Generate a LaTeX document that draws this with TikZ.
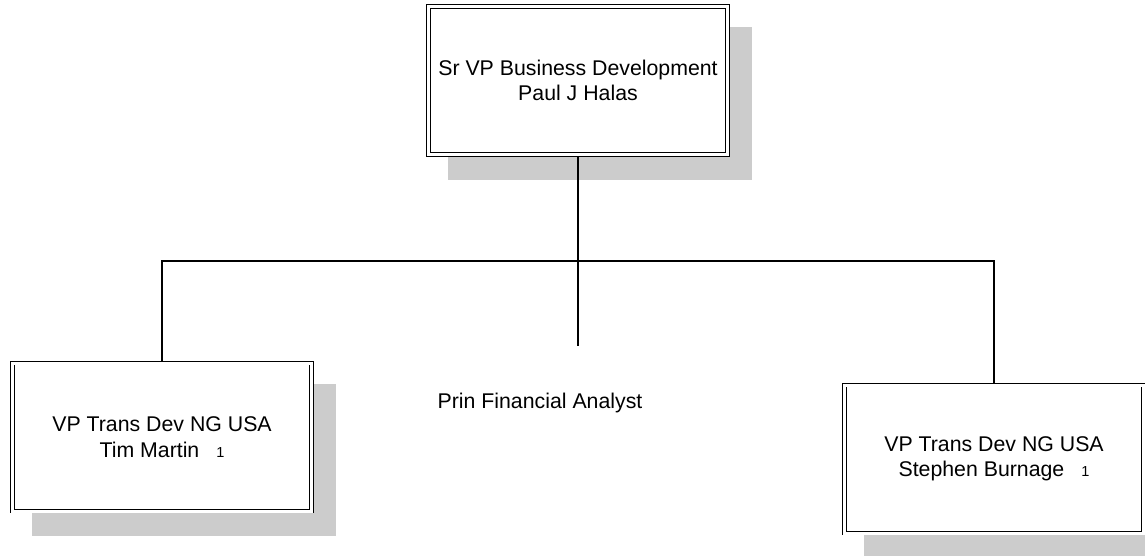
\documentclass[tikz,border=0pt]{standalone}
\usepackage{fontspec}
\setmainfont{Liberation Sans}
\usetikzlibrary{backgrounds}
\newcommand{\seatno}[1]{\hspace{17pt}{\fontsize{14.5}{14.5}\selectfont #1}}

\begin{document}
\begin{tikzpicture}[x=1pt,y=-1pt,
	post/.style={draw, double, line width=0.9pt, double distance=3pt, fill=white, minimum width=299pt, minimum height=148pt, outer sep=2.4pt, align=center, font=\fontsize{21.3}{25.5}\selectfont},
	title/.style={font=\fontsize{21.3}{25.5}\selectfont},
	link/.style={line width=1.1pt}]
	\useasboundingbox (0,0) rectangle (1145,555);
	\node [post] (halas) at (578,80.5) {Sr VP Business Development\\Paul J Halas};
	\node [post] (martin) at (162,437) {VP Trans Dev NG USA\\Tim Martin\seatno{1}};
	\node [post] (burnage) at (994,459) {VP Trans Dev NG USA\\Stephen Burnage\seatno{1}};
	\node [title] (analyst) at (540,403) {Prin Financial Analyst};
	\coordinate (bus) at (578,261);
	\coordinate (stub) at (578,346);
	\begin{scope}[on background layer]
		\foreach \n in {halas,martin,burnage}
			\fill [black!20] ([shift={(22,23)}]\n.north west) rectangle ([shift={(22,23)}]\n.south east);
	\end{scope}
	\draw [link] (halas.south) -- (stub);
	\draw [link] (martin.north) |- (bus) -| (burnage.north);
\end{tikzpicture}
\end{document}
